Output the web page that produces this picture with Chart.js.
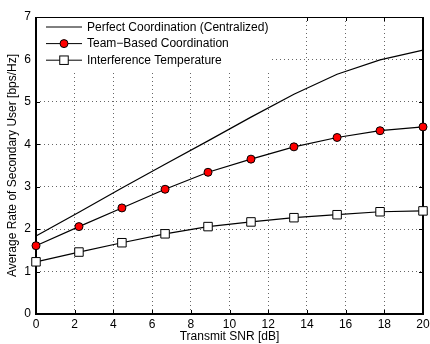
<!DOCTYPE html>
<html>
<head>
<meta charset="utf-8">
<script src="https://cdn.jsdelivr.net/npm/chart.js@4.4.1/dist/chart.umd.min.js"></script>
<style>
  html, body { margin: 0; padding: 0; background: #fff; }
</style>
</head>
<body>
<canvas id="chart" width="430" height="344"></canvas>
<script>
const snr = [0, 2.22, 4.44, 6.67, 8.89, 11.11, 13.33, 15.56, 17.78, 20];
const perfectRate = [1.84, 2.40, 2.97, 3.53, 4.08, 4.64, 5.18, 5.65, 5.99, 6.22];
const teamRate = [1.61, 2.06, 2.50, 2.94, 3.34, 3.65, 3.94, 4.16, 4.32, 4.41];
const interferenceRate = [1.23, 1.46, 1.68, 1.89, 2.06, 2.17, 2.27, 2.34, 2.41, 2.43];
const seriesNames = [
  'Perfect Coordination (Centralized)',
  'Team\u2212Based Coordination',
  'Interference Temperature',
];

const FONT = '"Liberation Sans", Arial, sans-serif';
const toPoints = (ys) => snr.map((x, i) => ({ x, y: ys[i] }));

// white page, axes box and MATLAB style inward ticks
const frame = {
  id: 'frame',
  beforeDraw(chart) {
    const { ctx } = chart;
    ctx.save();
    ctx.fillStyle = '#fff';
    ctx.fillRect(0, 0, chart.width, chart.height);
    ctx.restore();
  },
  beforeDatasetsDraw(chart) {
    const { ctx, chartArea: a, scales } = chart;
    ctx.save();
    ctx.strokeStyle = '#000';
    ctx.lineWidth = 1;
    scales.x.ticks.forEach((t) => {
      const px = Math.round(scales.x.getPixelForValue(t.value)) + 0.5;
      ctx.beginPath();
      ctx.moveTo(px, a.bottom); ctx.lineTo(px, a.bottom - 4);
      ctx.moveTo(px, a.top); ctx.lineTo(px, a.top + 4);
      ctx.stroke();
    });
    scales.y.ticks.forEach((t) => {
      const py = Math.round(scales.y.getPixelForValue(t.value)) + 0.5;
      ctx.beginPath();
      ctx.moveTo(a.left, py); ctx.lineTo(a.left + 4, py);
      ctx.moveTo(a.right, py); ctx.lineTo(a.right - 4, py);
      ctx.stroke();
    });
    ctx.lineWidth = 1;
    ctx.beginPath();
    ctx.moveTo(a.left, a.top + 0.5); ctx.lineTo(a.right, a.top + 0.5);
    ctx.stroke();
    ctx.lineWidth = 2;
    ctx.beginPath();
    ctx.moveTo(a.left, a.top); ctx.lineTo(a.left, a.bottom);
    ctx.lineTo(a.right, a.bottom); ctx.lineTo(a.right, a.top);
    ctx.stroke();
    ctx.restore();
  },
};

// legend in the upper left corner of the axes
const insideLegend = {
  id: 'insideLegend',
  afterDatasetsDraw(chart) {
    const { ctx, chartArea: a } = chart;
    ctx.save();
    ctx.fillStyle = '#fff';
    ctx.fillRect(a.left + 1, a.top + 1, 235, 52);
    ctx.font = '12px ' + FONT;
    ctx.textBaseline = 'middle';
    chart.data.datasets.forEach((ds, i) => {
      const y = a.top + 10 + i * 16.6;
      const x0 = a.left + 10;
      ctx.strokeStyle = '#000';
      ctx.lineWidth = 1;
      ctx.beginPath();
      ctx.moveTo(x0, y); ctx.lineTo(x0 + 36, y);
      ctx.stroke();
      const cx = x0 + 18;
      if (ds.pointStyle === 'circle' && ds.pointRadius > 0) {
        ctx.fillStyle = ds.pointBackgroundColor;
        ctx.beginPath();
        ctx.arc(cx, y, ds.pointRadius, 0, Math.PI * 2);
        ctx.fill();
        ctx.stroke();
      } else if (ds.pointStyle === 'rect') {
        const s = Math.SQRT1_2 * ds.pointRadius;
        ctx.fillStyle = '#fff';
        ctx.fillRect(cx - s, y - s, 2 * s, 2 * s);
        ctx.strokeRect(cx - s, y - s, 2 * s, 2 * s);
      }
      ctx.fillStyle = '#000';
      ctx.fillText(ds.label, x0 + 41, y + 0.5);
    });
    ctx.restore();
  },
};

new Chart(document.getElementById('chart'), {
  type: 'line',
  data: {
    datasets: [
      {
        label: seriesNames[0],
        data: toPoints(perfectRate),
        borderColor: '#000',
        borderWidth: 1.2,
        pointRadius: 0,
        pointStyle: 'circle',
      },
      {
        label: seriesNames[1],
        data: toPoints(teamRate),
        borderColor: '#000',
        borderWidth: 1.2,
        pointStyle: 'circle',
        pointRadius: 4,
        pointBackgroundColor: '#ff0000',
        pointBorderColor: '#000',
        pointBorderWidth: 1,
      },
      {
        label: seriesNames[2],
        data: toPoints(interferenceRate),
        borderColor: '#000',
        borderWidth: 1.2,
        pointStyle: 'rect',
        pointRadius: 6,
        pointBackgroundColor: '#fff',
        pointBorderColor: '#000',
        pointBorderWidth: 1,
      },
    ].map((d) => ({ ...d, tension: 0, fill: false, clip: false })),
  },
  options: {
    responsive: false,
    animation: false,
    layout: { padding: { left: 0, right: 6, top: 17, bottom: 0 } },
    plugins: {
      legend: { display: false },
      tooltip: { enabled: false },
    },
    scales: {
      x: {
        type: 'linear',
        min: 0,
        max: 20,
        afterFit(scale) {
          scale.height = 30;
          scale.paddingLeft = 0;
          scale.paddingRight = 0;
        },
        ticks: { stepSize: 2, color: '#000', padding: 3, maxRotation: 0, font: { family: FONT, size: 12 } },
        grid: { color: 'rgba(0,0,0,0.6)', lineWidth: 1, drawTicks: false },
        border: { display: false, dash: [1, 3] },
        title: {
          display: true,
          text: 'Transmit SNR [dB]',
          color: '#000',
          padding: { top: 0, bottom: 0 },
          font: { family: FONT, size: 12 },
        },
      },
      y: {
        type: 'linear',
        min: 0,
        max: 7,
        afterFit(scale) {
          scale.width = 36;
          scale.paddingTop = 0;
          scale.paddingBottom = 0;
        },
        ticks: { stepSize: 1, color: '#000', padding: 5, font: { family: FONT, size: 12 } },
        grid: { color: 'rgba(0,0,0,0.6)', lineWidth: 1, drawTicks: false },
        border: { display: false, dash: [1, 3] },
        title: {
          display: true,
          text: 'Average Rate of Secondary User [bps/Hz]',
          color: '#000',
          padding: { top: 5, bottom: 0 },
          font: { family: FONT, size: 12 },
        },
      },
    },
  },
  plugins: [frame, insideLegend],
});
</script>
</body>
</html>
